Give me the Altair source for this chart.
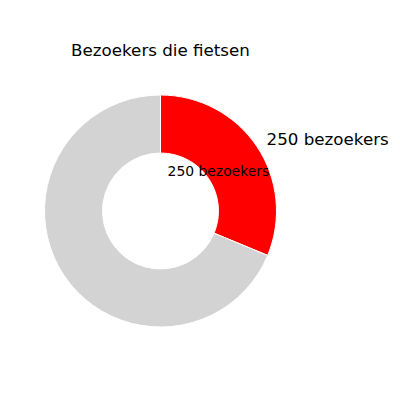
import altair as alt
import pandas as pd

categories = ["fietsen", "niet fietsen"]
values = [250, 550]
colors = ["#ff0000", "#d3d3d3"]
outer_labels = ["250 bezoekers", ""]
inner_labels = ["250 bezoekers", ""]
order = [0, 1]
title_text = "Bezoekers die fietsen"

df = pd.DataFrame({
    "cat": categories,
    "val": values,
    "outer": outer_labels,
    "inner": inner_labels,
    "ord": order,
})

cx, cy = 152.5, 203
R = 116

base = alt.Chart(df).encode(
    theta=alt.Theta("val:Q", stack=True),
    order=alt.Order("ord:Q"),
)

arc = base.mark_arc(
    radius=R, radius2=58, stroke="white", strokeWidth=1
).encode(
    x=alt.value(cx), y=alt.value(cy),
    color=alt.Color("cat:N", scale=alt.Scale(domain=categories, range=colors), legend=None),
)

outer = base.mark_text(
    radius=R * 1.1, align="left", baseline="middle",
    font="DejaVu Sans", fontSize=16.7, color="black"
).encode(x=alt.value(cx), y=alt.value(cy), text="outer:N")

inner = base.mark_text(
    radius=R * 0.6, align="center", baseline="middle",
    font="DejaVu Sans", fontSize=13.9, color="black"
).encode(x=alt.value(cx), y=alt.value(cy), text="inner:N")

title = alt.Chart(pd.DataFrame({"t": [title_text]})).mark_text(
    align="center", baseline="middle", font="DejaVu Sans", fontSize=16.7, color="black"
).encode(x=alt.value(cx), y=alt.value(43), text="t:N")

chart = alt.layer(arc, outer, inner, title).properties(
    width=384, height=384, autosize=alt.AutoSizeParams(type="none"), padding=0
).configure_view(stroke=None)

chart.save("out.html", embed_options={"renderer": "svg", "actions": False})
